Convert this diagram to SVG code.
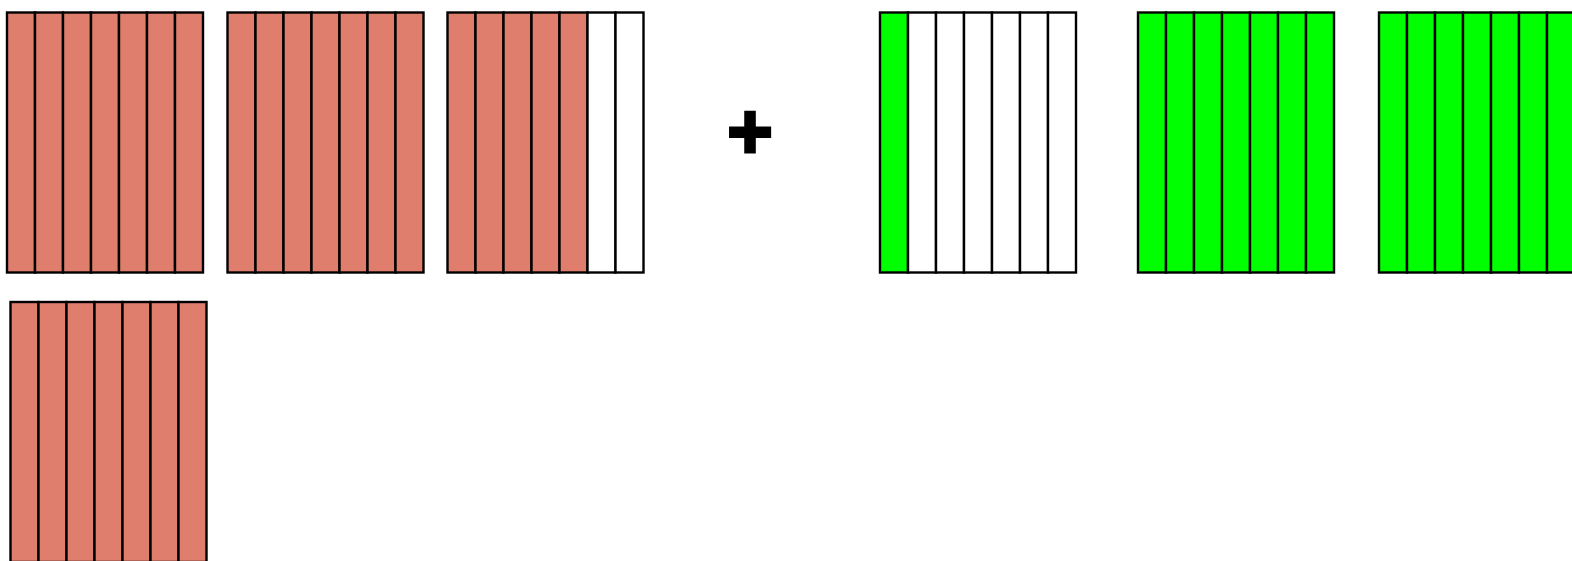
<svg xmlns="http://www.w3.org/2000/svg" width="1572" height="561" viewBox="0 0 1572 561">
<style>
.s{stroke:#000;stroke-width:2.4}
.r{fill:#DF7E6C}
.g{fill:#00FF00}
.w{fill:#FFFFFF}
.plus{font-family:"Liberation Sans",Arial,sans-serif;font-weight:bold;font-size:78px;fill:#000;stroke:#000;stroke-width:3}
</style>
<defs>
<g id="r7"><rect class="s r" x="0" y="0" width="28" height="260"/><rect class="s r" x="28" y="0" width="28" height="260"/><rect class="s r" x="56" y="0" width="28" height="260"/><rect class="s r" x="84" y="0" width="28" height="260"/><rect class="s r" x="112" y="0" width="28" height="260"/><rect class="s r" x="140" y="0" width="28" height="260"/><rect class="s r" x="168" y="0" width="28" height="260"/></g>
<g id="g7"><rect class="s g" x="0" y="0" width="28" height="260"/><rect class="s g" x="28" y="0" width="28" height="260"/><rect class="s g" x="56" y="0" width="28" height="260"/><rect class="s g" x="84" y="0" width="28" height="260"/><rect class="s g" x="112" y="0" width="28" height="260"/><rect class="s g" x="140" y="0" width="28" height="260"/><rect class="s g" x="168" y="0" width="28" height="260"/></g>
</defs>
<rect width="1572" height="561" fill="#fff"/>
<g id="block1"><use href="#r7" x="7" y="12.5"/></g>
<g id="block2"><use href="#r7" x="227.5" y="12.5"/></g>
<g id="block3" transform="translate(447.5,12.5)">
<rect class="s r" x="0" y="0" width="28" height="260"/><rect class="s r" x="28" y="0" width="28" height="260"/><rect class="s r" x="56" y="0" width="28" height="260"/><rect class="s r" x="84" y="0" width="28" height="260"/><rect class="s r" x="112" y="0" width="28" height="260"/><rect class="s w" x="140" y="0" width="28" height="260"/><rect class="s w" x="168" y="0" width="28" height="260"/>
</g>
<g id="block4"><use href="#r7" x="10.5" y="302"/></g>
<g id="plus"><text class="plus" x="750" y="158" text-anchor="middle">+</text></g>
<g id="green1" transform="translate(880,12.5)">
<rect class="s g" x="0" y="0" width="28" height="260"/><rect class="s w" x="28" y="0" width="28" height="260"/><rect class="s w" x="56" y="0" width="28" height="260"/><rect class="s w" x="84" y="0" width="28" height="260"/><rect class="s w" x="112" y="0" width="28" height="260"/><rect class="s w" x="140" y="0" width="28" height="260"/><rect class="s w" x="168" y="0" width="28" height="260"/>
</g>
<g id="green2"><use href="#g7" x="1138" y="12.5"/></g>
<g id="green3"><use href="#g7" x="1379" y="12.5"/></g>
<g id="connectors"></g>
</svg>
